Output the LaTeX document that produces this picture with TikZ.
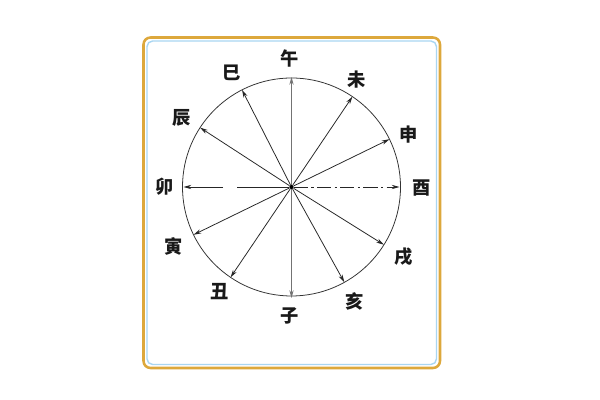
\documentclass[tikz,border=0pt]{standalone}
\usepackage{fontspec}
\newfontfamily\cjk{Noto Sans CJK SC}
\usetikzlibrary{arrows.meta}
\definecolor{frameGold}{HTML}{DDA83C}
\definecolor{frameBlue}{HTML}{A9D6F2}
\tikzset{
  branch/.style={font=\cjk\bfseries\fontsize{13}{14}\selectfont, inner sep=0pt, text=black!90},
  ray/.style={-{Stealth[length=5.5pt,width=3pt]}, line width=0.55pt, draw=black!85},
  vray/.style={ray, draw=black!55}
}
\begin{document}
\begin{tikzpicture}[x=0.025cm, y=0.025cm]
    \useasboundingbox (0,0) rectangle (600,400);
    \fill[white] (0,0) rectangle (600,400);
    \draw [frameGold, line width=1.8pt, rounded corners=5] (143.5,32) rectangle (440,362.5);
    \draw [frameBlue, line width=1pt, rounded corners=4] (147,35.5) rectangle (436.5,359);
    % dial
    \node (O) at (291.5,213) [circle, fill=black, inner sep=0pt, minimum size=3pt] {};
    \draw [black!80, line width=0.55pt] (O.center) circle [radius=109];
    \path (O.center) ++(90:110)   coordinate (pWu)
          (O.center) ++(56:109)   coordinate (pWei)
          (O.center) ++(26:109)   coordinate (pShen)
          (O.center) ++(0:108)    coordinate (pYou)
          (O.center) ++(-32:109)  coordinate (pXu)
          (O.center) ++(-61:109)  coordinate (pHai)
          (O.center) ++(-90:111)  coordinate (pZi)
          (O.center) ++(-124:109) coordinate (pChou)
          (O.center) ++(206:109)  coordinate (pYin)
          (O.center) ++(180:108)  coordinate (pMao)
          (O.center) ++(147:109)  coordinate (pChen)
          (O.center) ++(117:109)  coordinate (pSi);
    % branch names
    \node (Wu)   at (290,341.7)   [branch] {午};
    \node (Wei)  at (356.7,320)   [branch] {未};
    \node (Shen) at (408.3,265)   [branch] {申};
    \node (You)  at (421.7,211.7) [branch] {酉};
    \node (Xu)   at (403.3,143.3) [branch] {戌};
    \node (Hai)  at (355,98.3)    [branch] {亥};
    \node (Zi)   at (290,84)      [branch] {子};
    \node (Chou) at (220,108.3)   [branch] {丑};
    \node (Yin)  at (173.3,153.3) [branch] {寅};
    \node (Mao)  at (165,213.3)   [branch] {卯};
    \node (Chen) at (181.7,281.7) [branch] {辰};
    \node (Si)   at (231.7,326.7) [branch] {巳};
    % rays
    \draw [vray] (O) -- (pWu);
    \draw [vray] (O) -- (pZi);
    \draw [ray] (O) -- (pWei);
    \draw [ray] (O) -- (pShen);
    \draw [ray, dash pattern=on 10pt off 2.5pt on 1.5pt off 2.5pt] (O) -- (pYou);
    \draw [ray] (O) -- (pXu);
    \draw [ray] (O) -- (pHai);
    \draw [ray] (O) -- (pChou);
    \draw [ray] (O) -- (pYin);
    \draw [ray, dash pattern=on 37pt off 10pt on 40pt off 0pt] (O) -- (pMao);
    \draw [ray] (O) -- (pChen);
    \draw [ray] (O) -- (pSi);
\end{tikzpicture}
\end{document}
